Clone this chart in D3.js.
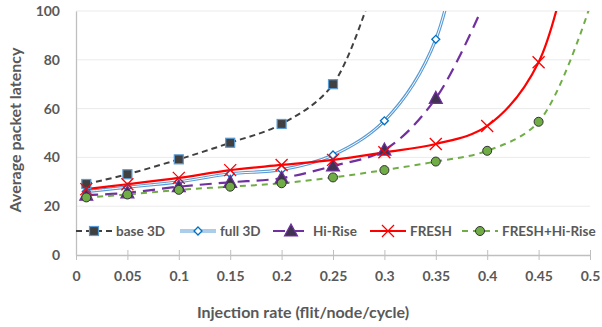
<!DOCTYPE html>
<html>
<head>
<meta charset="utf-8">
<script src="https://cdn.jsdelivr.net/npm/d3@7"></script>
<style>
	body { margin: 0; background: #fff; }
	text { font-family: Lato, 'Open Sans', sans-serif; font-weight: bold; fill: #595959; }
</style>
</head>
<body>
<svg id="chart" width="602" height="327"></svg>
<script>
// injection rates (x) and latency values
var rates = [0.01, 0.05, 0.1, 0.15, 0.2, 0.25, 0.3, 0.35, 0.4, 0.45, 0.5];
var base3D = [29.1, 33.1, 39.2, 46, 53.7, 70, 125];
var full3D = [26, 27.8, 30, 33.3, 35, 41, 55, 88.4, 200];
var hiRise = [24.5, 25.5, 28, 29.8, 31.5, 36.5, 43, 64.2, 106];
var fresh = [27, 29, 31.6, 34.8, 36.9, 39, 42.1, 45.5, 52.9, 79, 165];
var freshHiRise = [23.6, 24.8, 26.7, 28, 29.4, 31.8, 34.8, 38.3, 42.7, 54.6, 102];
var xTicks = [0, 0.05, 0.1, 0.15, 0.2, 0.25, 0.3, 0.35, 0.4, 0.45, 0.5];
var yTicks = [0, 20, 40, 60, 80, 100];
var seriesNames = ['base 3D', 'full 3D', 'Hi-Rise', 'FRESH', 'FRESH+Hi-Rise'];

var svg = d3.select('#chart');
var x = d3.scaleLinear().domain([0, 0.5]).range([76, 590]);
var y = d3.scaleLinear().domain([0, 100]).range([255, 11]);

var series = [
	{ name: seriesNames[0], values: base3D, color: '#404040', width: 2, dash: '6,4', marker: 'square' },
	{ name: seriesNames[1], values: full3D, color: '#5b9bd5', width: 3.2, dash: null, marker: 'diamond', doubled: true },
	{ name: seriesNames[2], values: hiRise, color: '#7030a0', width: 2.2, dash: '12,7', marker: 'triangle' },
	{ name: seriesNames[3], values: fresh, color: '#ff0000', width: 2.2, dash: null, marker: 'cross' },
	{ name: seriesNames[4], values: freshHiRise, color: '#70ad47', width: 2, dash: '6,5', marker: 'circle' }
];

// gridlines
svg.append('g')
	.selectAll('line')
	.data(yTicks.slice(1))
	.enter()
	.append('line')
	.attr('x1', x(0)).attr('x2', x(0.5))
	.attr('y1', function(d) { return y(d); })
	.attr('y2', function(d) { return y(d); })
	.attr('stroke', '#ebebeb')
	.attr('stroke-width', 1);

// axes
var xAxis = svg.append('g')
	.attr('transform', 'translate(0,' + y(0) + ')')
	.call(d3.axisBottom(x).tickValues(xTicks).tickSize(5).tickSizeOuter(0)
		.tickFormat(function(d) { return d3.format('~g')(d); }));
xAxis.select('.domain').attr('stroke', '#bfbfbf').attr('stroke-width', 1.3);
xAxis.selectAll('.tick line').attr('stroke', '#bfbfbf').attr('y1', -5).attr('y2', 5);
xAxis.selectAll('.tick text').attr('y', 16).attr('font-size', 14).attr('font-family', null).attr('fill', null);

var yAxis = svg.append('g')
	.attr('transform', 'translate(' + x(0) + ',0)')
	.call(d3.axisLeft(y).tickValues(yTicks).tickSize(0).tickPadding(16));
yAxis.select('.domain').attr('stroke', '#bfbfbf').attr('stroke-width', 1.3);
yAxis.selectAll('.tick text').attr('font-size', 14).attr('font-family', null).attr('fill', null);

// axis titles
svg.append('text')
	.attr('x', 303).attr('y', 318)
	.attr('text-anchor', 'middle')
	.attr('font-size', 16)
	.text('Injection rate (flit/node/cycle)');
svg.append('text')
	.attr('transform', 'translate(21,130) rotate(-90)')
	.attr('text-anchor', 'middle')
	.attr('font-size', 16)
	.text('Average packet latency');

svg.append('clipPath')
	.attr('id', 'plotClip')
	.append('rect')
	.attr('x', x(0)).attr('y', y(100))
	.attr('width', x(0.5) - x(0)).attr('height', y(0) - y(100));

var line = d3.line()
	.x(function(d, i) { return x(rates[i]); })
	.y(function(d) { return y(d); })
	.curve(d3.curveCatmullRom.alpha(0.5));

drawMarker = function(g, s, cx, cy) {
	if (s.marker == 'square') {
		g.append('rect').attr('x', cx - 4.5).attr('y', cy - 4.5).attr('width', 9).attr('height', 9)
			.attr('fill', '#404040').attr('stroke', '#5b9bd5').attr('stroke-width', 1.2);
	}
	else if (s.marker == 'diamond') {
		g.append('path').attr('d', d3.symbol(d3.symbolDiamond2, 40)())
			.attr('transform', 'translate(' + cx + ',' + cy + ')')
			.attr('fill', '#fff').attr('stroke', '#0070c0').attr('stroke-width', 1.3);
	}
	else if (s.marker == 'triangle') {
		g.append('path').attr('d', 'M0,-7L6.5,5L-6.5,5Z')
			.attr('transform', 'translate(' + cx + ',' + cy + ')')
			.attr('fill', '#403151').attr('stroke', '#7030a0').attr('stroke-width', 1.2);
	}
	else if (s.marker == 'cross') {
		g.append('path').attr('d', 'M-6,-6L6,6M-6,6L6,-6')
			.attr('transform', 'translate(' + cx + ',' + cy + ')')
			.attr('stroke', '#ff0000').attr('stroke-width', 1.3).attr('fill', 'none');
	}
	else if (s.marker == 'circle') {
		g.append('circle').attr('cx', cx).attr('cy', cy).attr('r', 4.5)
			.attr('fill', '#70ad47').attr('stroke', '#333').attr('stroke-width', 1);
	}
};

drawStroke = function(g, s, d) {
	g.append('path').attr('d', d)
		.attr('fill', 'none')
		.attr('stroke', s.color)
		.attr('stroke-width', s.width)
		.attr('stroke-dasharray', s.dash);
	if (s.doubled) {
		g.append('path').attr('d', d)
			.attr('fill', 'none')
			.attr('stroke', '#fff')
			.attr('stroke-width', 1);
	}
};

series.forEach(function(s) {
	var g = svg.append('g').attr('clip-path', 'url(#plotClip)');
	drawStroke(g, s, line(s.values));
});
series.forEach(function(s) {
	var g = svg.append('g');
	s.values.forEach(function(v, i) {
		if (v <= 100) drawMarker(g, s, x(rates[i]), y(v));
	});
});

// legend
var legendX = [76, 180, 273, 370, 462];
var legend = svg.append('g');
series.forEach(function(s, i) {
	var lx = legendX[i], ly = 231;
	drawStroke(legend, s, 'M' + lx + ',' + ly + 'L' + (lx + 36) + ',' + ly);
	drawMarker(legend, s, lx + 18, ly);
	legend.append('text')
		.attr('x', lx + 40).attr('y', ly + 5)
		.attr('font-size', 13.5)
		.text(s.name);
});
</script>
</body>
</html>
